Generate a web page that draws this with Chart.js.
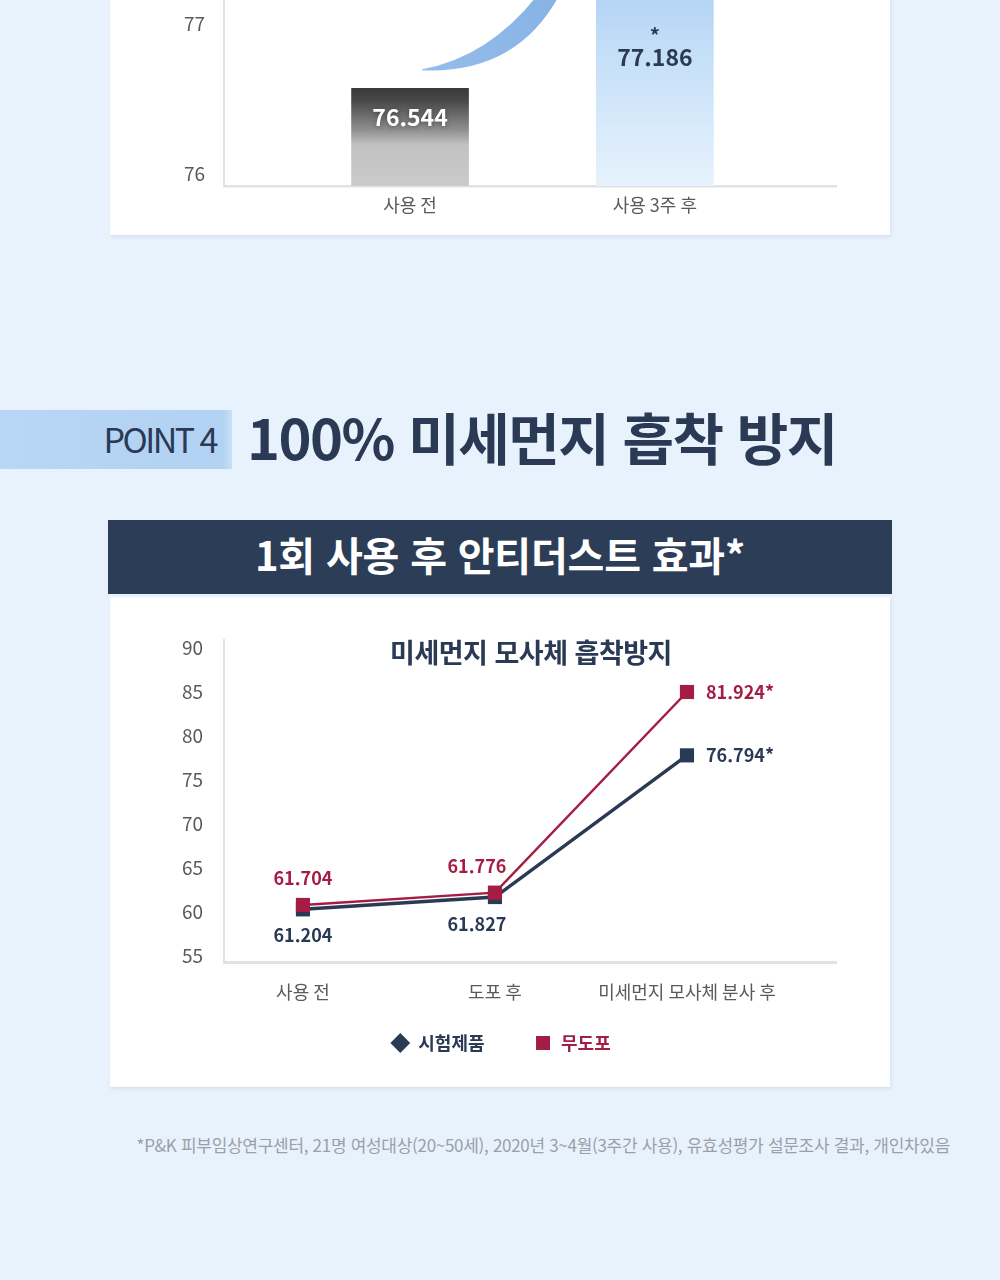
<!DOCTYPE html>
<html lang="ko">
<head>
<meta charset="utf-8">
<title>100% 미세먼지 흡착 방지</title>
<script src="https://cdn.jsdelivr.net/npm/chart.js@4.4.1/dist/chart.umd.min.js"></script>
<style>
  html, body { margin: 0; padding: 0; }
  body {
    width: 1000px; height: 1280px; position: relative; overflow: hidden;
    background: #e8f2fd;
    font-family: "Noto Sans CJK KR", "Noto Sans", sans-serif;
  }
  .card { position: absolute; left: 110px; width: 780px; background: #fff;
          box-shadow: 1px 2px 3px rgba(110, 130, 160, 0.16); }
  #card1 { top: -300px; height: 535px; }
  #card2 { top: 597px; height: 490px; }
  .card canvas { position: absolute; left: 0; top: 0; }
  #pointBox { position: absolute; left: 0; top: 410px; width: 232px; height: 59px;
              background: linear-gradient(90deg, #b8d6f5 0%, #b2d2f3 96%, #c9e0f7 100%); }
  #pointText { position: absolute; right: 16px; top: 0; line-height: 57px; font-size: 34px;
               color: #2a3a55; letter-spacing: -2.5px; white-space: nowrap; }
  #headline { position: absolute; left: 247px; top: 401px; line-height: 70px; font-size: 56px;
              font-weight: 700; color: #2a3a55; letter-spacing: -1.5px; white-space: nowrap; }
  #banner { position: absolute; left: 108px; top: 520px; width: 784px; height: 74px;
            background: #2c3d57; color: #fff; text-align: center; line-height: 68px;
            font-size: 40px; font-weight: 700; letter-spacing: -0.2px; white-space: nowrap; }
  #chartTitle { position: absolute; left: 0; top: 37px; width: 842px; text-align: center;
                line-height: 36px; font-size: 27px; font-weight: 700; color: #2a3a55;
                letter-spacing: -0.5px; z-index: 2; white-space: nowrap; }
  #footnote { position: absolute; right: 50px; top: 1133px; line-height: 24px; font-size: 17px;
              color: #9aa0a8; letter-spacing: -0.3px; white-space: nowrap; }
</style>
</head>
<body>
<div class="card" id="card1"><canvas id="barChart" width="780" height="535"></canvas></div>

<div id="pointBox"><div id="pointText">POINT 4</div></div>
<div id="headline">100% 미세먼지 흡착 방지</div>
<div id="banner">1회 사용 후 안티더스트 효과*</div>

<div class="card" id="card2">
  <div id="chartTitle">미세먼지 모사체 흡착방지</div>
  <canvas id="lineChart" width="780" height="490"></canvas>
</div>

<div id="footnote">*P&amp;K 피부임상연구센터, 21명 여성대상(20~50세), 2020년 3~4월(3주간 사용), 유효성평가 설문조사 결과, 개인차있음</div>

<script>
// ---------------- data ----------------
const barCategories = ['사용 전', '사용 3주 후'];
const barValues = [76.544, 77.186];
const barValueLabels = ['76.544', '77.186'];
const barMarks = ['', '*'];
const barTicks = [76, 77];

const lineCategories = ['사용 전', '도포 후', '미세먼지 모사체 분사 후'];
const seriesNames = ['시험제품', '무도포'];
const productValues = [60.3, 61.7, 77.8];   // 시험제품 marks as plotted
const controlValues = [60.8, 62.2, 85.0];   // 무도포 marks as plotted
const productLabels = ['61.204', '61.827', '76.794*'];
const controlLabels = ['61.704', '61.776', '81.924*'];
const lineTicks = [55, 60, 65, 70, 75, 80, 85, 90];

// ---------------- styles ----------------
const NAVY = '#2a3a55';
const RED = '#a51d44';
const AXIS = '#e0e2e5';
const TICK = '#5a5a5a';
const FONT = '"Noto Sans CJK KR", "Noto Sans", sans-serif';
Chart.defaults.font.family = FONT;

// place first / last category at given fractions of the plot width
function placeCategories(first, last) {
  return scale => {
    const n = Math.max(scale.getLabels().length - 1, 1);
    scale._valueRange = n / (last - first);
    scale._startValue = -first * scale._valueRange;
  };
}
function fixedTicks(values) {
  return scale => { scale.ticks = values.map(v => ({ value: v })); };
}
function fixWidth(w) { return s => { s.width = w; }; }
function fixHeight(h) { return s => { s.height = h; }; }

// ---------------- top bar chart ----------------
const barLabelPlugin = {
  id: 'barLabels',
  afterDatasetsDraw(chart, args, opts) {
    const ctx = chart.ctx;
    chart.getDatasetMeta(0).data.forEach((bar, i) => {
      ctx.save();
      ctx.textAlign = 'center';
      ctx.textBaseline = 'middle';
      ctx.fillStyle = opts.colors[i];
      if (opts.shadow[i]) { ctx.shadowColor = 'rgba(0,0,0,0.35)'; ctx.shadowBlur = 5; ctx.shadowOffsetY = 1; }
      ctx.font = 'bold 23px ' + FONT;
      ctx.fillText(barValueLabels[i], bar.x, bar.y + opts.dy[i]);
      if (barMarks[i]) {
        ctx.font = 'bold 20px ' + FONT;
        ctx.fillText(barMarks[i], bar.x, bar.y + opts.markDy);
      }
      ctx.restore();
    });
  }
};

const trendArrowPlugin = {
  id: 'trendArrow',
  afterDatasetsDraw(chart) {
    const bars = chart.getDatasetMeta(0).data;
    if (bars.length < 2) return;
    const a = bars[0], b = bars[1];
    const x0 = a.x + 12, y0 = a.y - 18;
    const x1 = b.x - 96, y1 = b.y + 4;
    const ctx = chart.ctx;
    ctx.save();
    const g = ctx.createLinearGradient(x0, y0, x1, y1);
    g.addColorStop(0, '#95bdea');
    g.addColorStop(1, '#86b2e5');
    ctx.fillStyle = g;
    ctx.beginPath();
    ctx.moveTo(x0, y0);
    ctx.quadraticCurveTo(x0 + 94, y0 + 4, x1, y1);
    ctx.lineTo(x1 - 22, y1);
    ctx.quadraticCurveTo(x0 + 66, y0 - 13, x0, y0 - 1);
    ctx.closePath();
    ctx.fill();
    ctx.restore();
  }
};

new Chart(document.getElementById('barChart'), {
  type: 'bar',
  data: {
    labels: barCategories,
    datasets: [{
      data: barValues,
      barThickness: 117,
      borderWidth: 0,
      backgroundColor: (c) => {
        const chart = c.chart, area = chart.chartArea;
        if (!area || c.type !== 'data') return '#c8c8c8';
        const top = chart.scales.y.getPixelForValue(c.raw);
        const g = chart.ctx.createLinearGradient(0, top, 0, area.bottom);
        if (c.dataIndex === 0) {
          g.addColorStop(0, '#3a3a3a');
          g.addColorStop(0.12, '#474747');
          g.addColorStop(0.42, '#8e8e8e');
          g.addColorStop(0.58, '#c2c2c2');
          g.addColorStop(1, '#cacaca');
        } else {
          g.addColorStop(0, '#b2d3f4');
          g.addColorStop(0.35, '#c6e0f8');
          g.addColorStop(1, '#e7f2fd');
        }
        return g;
      }
    }]
  },
  options: {
    responsive: false,
    animation: false,
    devicePixelRatio: 1,
    layout: { padding: { left: 56, right: 54, top: 40, bottom: 0 } },
    plugins: {
      legend: { display: false },
      tooltip: { enabled: false },
      barLabels: { colors: ['#ffffff', NAVY], shadow: [true, false], dy: [29, 65], markDy: 43 }
    },
    scales: {
      x: {
        offset: true,
        afterFit: fixHeight(49),
        afterBuildTicks: placeCategories(0.304, 0.704),
        grid: { color: 'transparent', drawTicks: false },
        border: { display: true, color: AXIS, width: 2.5 },
        ticks: { color: TICK, padding: 8, font: { size: 18 }, autoSkip: false, maxRotation: 0 }
      },
      y: {
        min: 75.893,
        max: 78.867,
        afterFit: fixWidth(58),
        afterBuildTicks: fixedTicks(barTicks),
        grid: { color: 'transparent', drawTicks: false },
        border: { display: true, color: AXIS, width: 2 },
        ticks: { color: TICK, padding: 19, labelOffset: 4, font: { size: 19 } }
      }
    }
  },
  plugins: [barLabelPlugin, trendArrowPlugin]
});

// ---------------- line chart ----------------
const pointLabelPlugin = {
  id: 'pointLabels',
  afterDatasetsDraw(chart, args, opts) {
    const ctx = chart.ctx;
    const texts = [productLabels, controlLabels];
    chart.data.datasets.forEach((ds, di) => {
      const place = opts.placement[di];
      chart.getDatasetMeta(di).data.forEach((pt, i) => {
        ctx.save();
        ctx.font = 'bold 18px ' + FONT;
        ctx.fillStyle = ds.borderColor;
        ctx.textAlign = place.align[i];
        ctx.textBaseline = 'middle';
        ctx.fillText(texts[di][i], pt.x + place.dx[i], pt.y + place.dy[i]);
        ctx.restore();
      });
    });
  }
};

new Chart(document.getElementById('lineChart'), {
  type: 'line',
  data: {
    labels: lineCategories,
    datasets: [
      { label: seriesNames[0], data: productValues, borderColor: NAVY, backgroundColor: NAVY,
        borderWidth: 3.5, pointStyle: 'rect', pointRadius: 10, pointHoverRadius: 10,
        pointBorderWidth: 0, tension: 0, order: 2 },
      { label: seriesNames[1], data: controlValues, borderColor: RED, backgroundColor: RED,
        borderWidth: 2.5, pointStyle: 'rect', pointRadius: 10, pointHoverRadius: 10,
        pointBorderWidth: 0, tension: 0, order: 1 }
    ]
  },
  options: {
    responsive: false,
    animation: false,
    devicePixelRatio: 1,
    layout: { padding: { left: 56, right: 54, top: 43, bottom: 25 } },
    plugins: {
      tooltip: { enabled: false },
      legend: {
        position: 'bottom',
        labels: {
          usePointStyle: true,
          boxHeight: 14,
          padding: 27,
          font: { size: 18, weight: 'bold' },
          sort: (a, b) => a.datasetIndex - b.datasetIndex,
          generateLabels: (chart) => {
            const items = Chart.defaults.plugins.legend.labels.generateLabels(chart);
            items.forEach(it => {
              const ds = chart.data.datasets[it.datasetIndex];
              it.pointStyle = it.datasetIndex === 0 ? 'rectRot' : 'rect';
              it.fontColor = ds.borderColor;
              it.fillStyle = ds.borderColor;
              it.strokeStyle = ds.borderColor;
              it.lineWidth = 0;
              if (it.datasetIndex === 0) it.text = it.text + '\u2003\u2005';
            });
            return items;
          }
        }
      },
      pointLabels: {
        placement: [
          { dx: [0, -18, 19], dy: [26, 27, 0], align: ['center', 'center', 'left'] },
          { dx: [0, -18, 19], dy: [-27, -26, 0], align: ['center', 'center', 'left'] }
        ]
      }
    },
    scales: {
      x: {
        offset: false,
        afterFit: fixHeight(45),
        afterBuildTicks: placeCategories(0.129, 0.7565),
        grid: { color: 'transparent', drawTicks: false },
        border: { display: true, color: AXIS, width: 3 },
        ticks: { color: TICK, padding: 19, font: { size: 18 }, autoSkip: false, maxRotation: 0 }
      },
      y: {
        min: 54.318,
        max: 90.909,
        afterFit: fixWidth(58),
        afterBuildTicks: fixedTicks(lineTicks),
        grid: { color: 'transparent', drawTicks: false },
        border: { display: true, color: AXIS, width: 2 },
        ticks: { color: TICK, padding: 21, font: { size: 19 } }
      }
    }
  },
  plugins: [pointLabelPlugin]
});
</script>
</body>
</html>
